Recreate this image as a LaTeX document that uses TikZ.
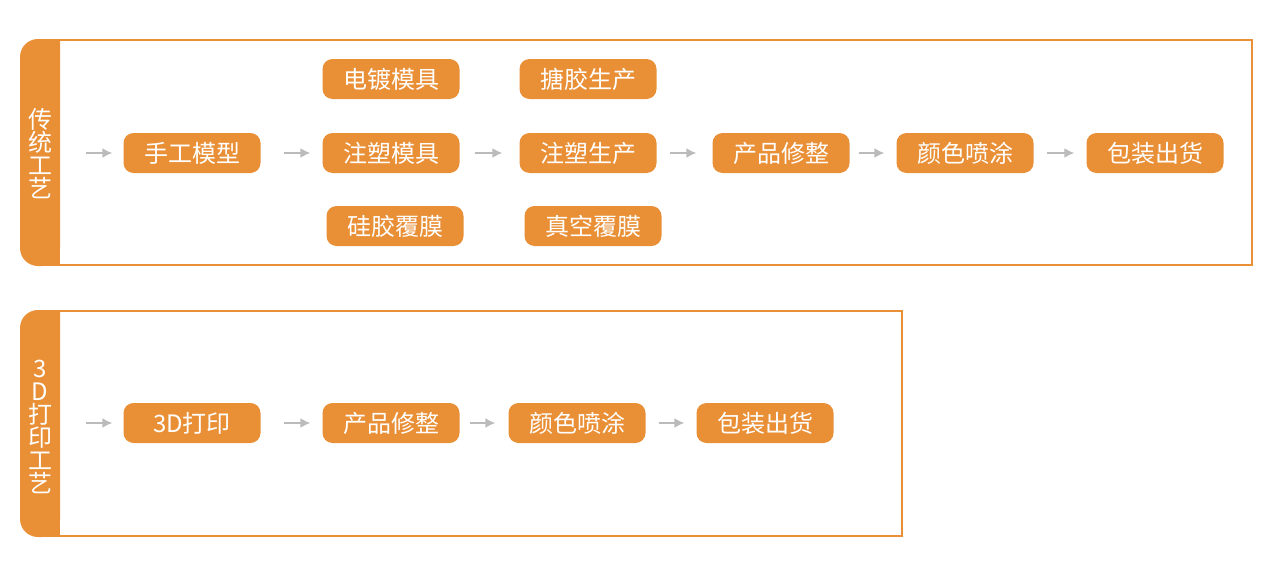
\documentclass[tikz,border=0pt]{standalone}
\usepackage{fontspec}
\setmainfont{Noto Sans CJK SC}
\usetikzlibrary{calc,arrows.meta}
\definecolor{org}{HTML}{E98F36}
\definecolor{arrgray}{HTML}{BBBBBB}
\begin{document}
\begin{tikzpicture}[x=1pt,y=-1pt,
  stepbox/.style={fill=org,rounded corners=10pt,minimum width=137pt,minimum height=40pt,inner sep=0pt,text=white,font=\fontsize{24}{24}\selectfont},
  arr/.style={draw=arrgray,line width=1.6pt,-{Latex[length=10pt,width=10pt]}},
  frame/.style={draw=org,line width=2.2pt},
  tab/.style={fill=org,rounded corners=18pt},
  tabtext/.style={text=white,align=center,font=\fontsize{24}{23}\selectfont,inner sep=0pt}
]
\useasboundingbox (0,0) rectangle (1272,562);
% frames
\draw[frame] (40,40) rectangle (1252,265);
\fill[tab] (60,39) -- (20,39) -- (20,266) -- (60,266) [sharp corners] -- cycle;
\fill[org] (40,39) rectangle (60,266);
\node[tabtext] (t1) at (40,154) {传\\统\\工\\艺};

\draw[frame] (40,311) rectangle (902,536);
\fill[tab] (60,310) -- (20,310) -- (20,537) -- (60,537) [sharp corners] -- cycle;
\fill[org] (40,310) rectangle (60,537);
\node[tabtext] (t2) at (40,427) {3\\D\\打\\印\\工\\艺};

% top row
\node[stepbox] (a1) at (192,153) {手工模型};
\node[stepbox] (b0) at (391,79) {电镀模具};
\node[stepbox] (b1) at (391,153) {注塑模具};
\node[stepbox] (b2) at (395,226) {硅胶覆膜};
\node[stepbox] (c0) at (588,79) {搪胶生产};
\node[stepbox] (c1) at (588,153) {注塑生产};
\node[stepbox] (c2) at (593,226) {真空覆膜};
\node[stepbox] (d1) at (781,153) {产品修整};
\node[stepbox] (e1) at (965,153) {颜色喷涂};
\node[stepbox] (f1) at (1155,153) {包装出货};

\coordinate (s1) at (86,153);
\draw[arr] (s1) -- ($(a1.west)+(-11,0)$);
\draw[arr,shorten <=23pt,shorten >=12pt] (a1) -- (b1);
\draw[arr,shorten <=15pt,shorten >=17pt] (b1) -- (c1);
\draw[arr,shorten <=13pt,shorten >=16pt] (c1) -- (d1);
\draw[arr,shorten <=9pt,shorten >=12pt] (d1) -- (e1);
\draw[arr,shorten <=13pt,shorten >=12pt] (e1) -- (f1);

% bottom row
\node[stepbox] (g1) at (192,423) {3D打印};
\node[stepbox] (g2) at (391,423) {产品修整};
\node[stepbox] (g3) at (577,423) {颜色喷涂};
\node[stepbox] (g4) at (765,423) {包装出货};
\coordinate (s2) at (86,423);
\draw[arr] (s2) -- ($(g1.west)+(-11,0)$);
\draw[arr,shorten <=23pt,shorten >=12pt] (g1) -- (g2);
\draw[arr,shorten <=10pt,shorten >=13pt] (g2) -- (g3);
\draw[arr,shorten <=13pt,shorten >=12pt] (g3) -- (g4);
\end{tikzpicture}
\end{document}
